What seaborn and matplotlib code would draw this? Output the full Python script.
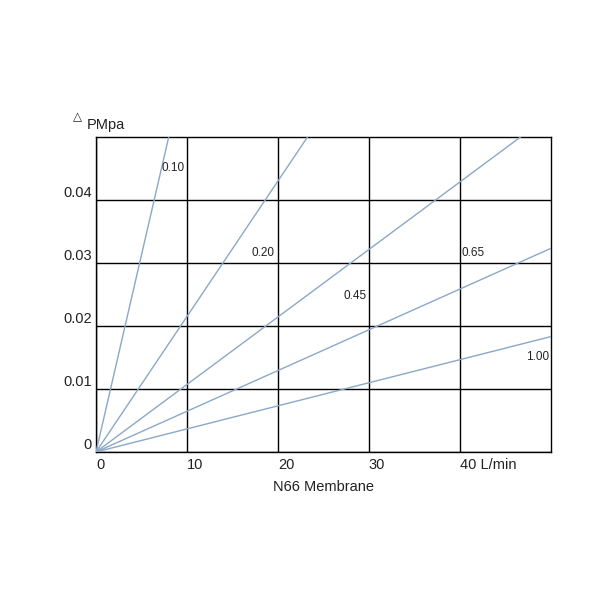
import numpy as np
import pandas as pd
import seaborn as sns
import matplotlib.pyplot as plt

# membrane pore sizes and the end point of each line (line runs from origin)
membranes = ["0.10", "0.20", "0.45", "0.65", "1.00"]
flow_end = [8.0, 23.5, 46.7, 50.0, 50.0]
dp_end = [0.050, 0.0505, 0.050, 0.0323, 0.0183]

# label positions
label_x = [8.5, 18.4, 28.5, 41.5, 48.5]
label_y = [0.0451, 0.0316, 0.0248, 0.0316, 0.0151]

x_ticks = [0, 10, 20, 30, 40]
x_tick_labels = ["0", "10", "20", "30", "40 L/min"]
y_ticks = [0, 0.01, 0.02, 0.03, 0.04]
y_tick_labels = ["0", "0.01", "0.02", "0.03", "0.04"]

rows = []
for m, fx, dy in zip(membranes, flow_end, dp_end):
    rows.append({"membrane": m, "flow": 0.0, "dp": 0.0})
    rows.append({"membrane": m, "flow": fx, "dp": dy})
df = pd.DataFrame(rows)

sns.set_style("white")
plt.rcParams['font.family'] = ['Liberation Sans', 'DejaVu Sans']

fig = plt.figure(figsize=(6, 6), dpi=100)
ax = fig.add_axes([0.16, 0.2467, 0.758, 0.5253])

line_color = "#8ba8c8"
sns.lineplot(data=df, x="flow", y="dp", hue="membrane",
             palette={m: line_color for m in membranes},
             legend=False, linewidth=1.0, ax=ax, zorder=3)

ax.set_xlim(0, 50)
ax.set_ylim(0, 0.05)
ax.set_xticks(x_ticks)
ax.set_yticks(y_ticks)
ax.set_xticklabels(x_tick_labels, ha="left", fontsize=10.5, color="#222222")
ax.set_yticklabels(y_tick_labels, va="bottom", fontsize=10.5, color="#222222")
ax.tick_params(axis="both", length=0, pad=3)
ax.tick_params(axis="x", pad=4)
ax.grid(True, color="black", linewidth=1)
for s in ax.spines.values():
    s.set_color("black")
    s.set_linewidth(1)

for m, lx, ly in zip(membranes, label_x, label_y):
    ax.text(lx, ly, m, ha="center", va="center", fontsize=8.5, color="#222222", zorder=4)

ax.set_xlabel("N66 Membrane", fontsize=10.5, labelpad=6, color="#222222")
ax.set_ylabel("")
fig.text(77 / 600, 1 - 117 / 600, "\u25b3", fontsize=8.5, ha="center", va="center",
         family=["DejaVu Sans"], color="#222222")
fig.text(87 / 600, 1 - 125 / 600, "PMpa", fontsize=10.5, ha="left", va="center",
         color="#222222")

fig.savefig("out.png", dpi=100)
